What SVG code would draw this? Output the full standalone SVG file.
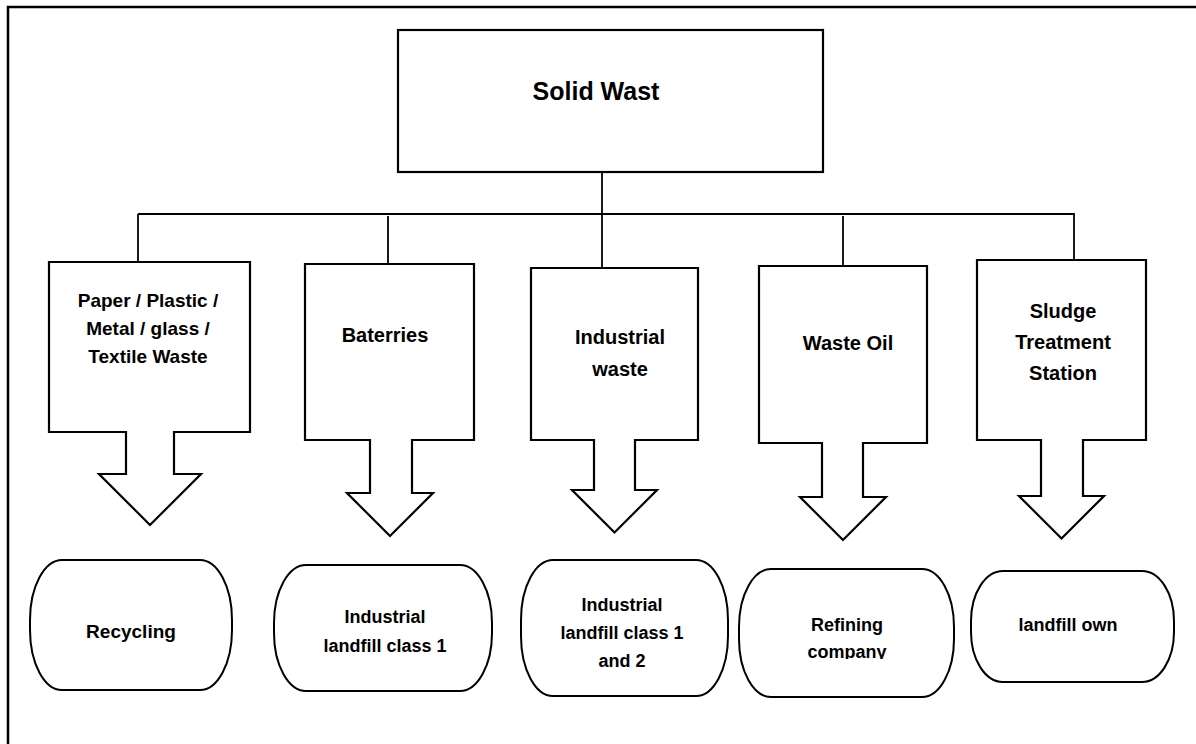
<svg xmlns="http://www.w3.org/2000/svg" width="1196" height="744" viewBox="0 0 1196 744">
<style>
.shape{fill:#fff;stroke:#000;stroke-width:2.2;stroke-linejoin:miter}
.term{fill:#fff;stroke:#000;stroke-width:2}
.conn{fill:none;stroke:#000;stroke-width:1.8}
.frame{fill:none;stroke:#000;stroke-width:2.5}
text{font-family:"Liberation Sans",Arial,sans-serif;font-weight:bold;fill:#000;text-anchor:middle}
.t20{font-size:20px}
.t19{font-size:19px}
.t18{font-size:18px}
</style>
<defs>
<clipPath id="clipRef"><rect x="739" y="569" width="215" height="90"/></clipPath>
</defs>
<path class="frame" d="M8,744 V7 H1196"/>
<g id="connectors">
<path class="conn" d="M602,172 V268"/>
<path class="conn" d="M138,214 H1074"/>
<path class="conn" d="M138,214 V262"/>
<path class="conn" d="M388,216 V264"/>
<path class="conn" d="M843,216 V266"/>
<path class="conn" d="M1074,213 V260"/>
</g>
<g id="solid-waste">
<rect class="shape" x="398" y="30" width="425" height="142"/>
<text x="596" y="100" style="font-size:25px">Solid Wast</text>
</g>
<g id="paper">
<path class="shape" d="M49,262 H250 V432 H174 V474 H201 L150,525 L99,474 H126 V432 H49 Z"/>
<text class="t19" x="148" y="307">Paper / Plastic /</text>
<text class="t19" x="148" y="335">Metal / glass /</text>
<text class="t19" x="148" y="363">Textile Waste</text>
</g>
<g id="batteries">
<path class="shape" d="M305,264 H474 V440 H412 V493 H433 L390,536 L347,493 H370 V440 H305 Z"/>
<text class="t20" x="385" y="342">Baterries</text>
</g>
<g id="industrial">
<path class="shape" d="M531,268 H698 V440 H635 V490 H657 L614.5,532.5 L572,490 H594 V440 H531 Z"/>
<text class="t20" x="620" y="344">Industrial</text>
<text class="t20" x="620" y="376">waste</text>
</g>
<g id="waste-oil">
<path class="shape" d="M759,266 H927 V443 H863 V497 H886 L843,540 L800,497 H822 V443 H759 Z"/>
<text class="t20" x="848" y="350">Waste Oil</text>
</g>
<g id="sludge">
<path class="shape" d="M977,260 H1146 V440 H1083 V496 H1104 L1061.5,538.5 L1019,496 H1041 V440 H977 Z"/>
<text class="t20" x="1063" y="318">Sludge</text>
<text class="t20" x="1063" y="349">Treatment</text>
<text class="t20" x="1063" y="380">Station</text>
</g>
<g id="recycling">
<rect class="term" x="30" y="560" width="202" height="130" rx="32" ry="60"/>
<text class="t19" x="131" y="638">Recycling</text>
</g>
<g id="landfill-1">
<rect class="term" x="274" y="565" width="218" height="126" rx="32" ry="58"/>
<text class="t18" x="385" y="623">Industrial</text>
<text class="t18" x="385" y="652">landfill class 1</text>
</g>
<g id="landfill-12">
<rect class="term" x="521" y="560" width="207" height="136" rx="32" ry="60"/>
<text class="t18" x="622" y="611">Industrial</text>
<text class="t18" x="622" y="639">landfill class 1</text>
<text class="t18" x="622" y="667">and 2</text>
</g>
<g id="refining">
<rect class="term" x="739" y="569" width="215" height="128" rx="32" ry="58"/>
<g clip-path="url(#clipRef)">
<text class="t18" x="847" y="631">Refining</text>
<text class="t18" x="847" y="658">company</text>
</g>
</g>
<g id="landfill-own">
<rect class="term" x="971" y="571" width="203" height="111" rx="32" ry="50"/>
<text class="t18" x="1068" y="631">landfill own</text>
</g>
</svg>
